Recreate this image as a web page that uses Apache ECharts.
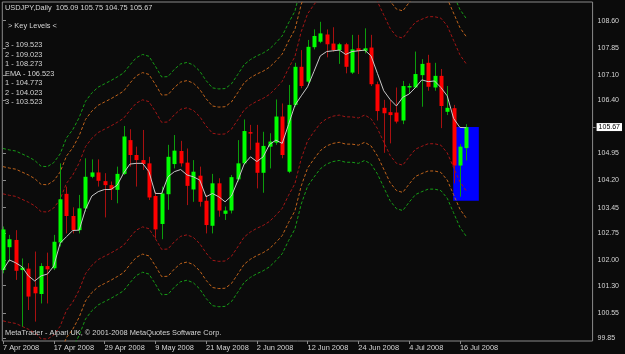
<!DOCTYPE html>
<html><head><meta charset="utf-8">
<script src="https://cdn.jsdelivr.net/npm/echarts@6/dist/echarts.min.js"></script>
<style>html,body{margin:0;padding:0;background:#0b0b0b;}#c{width:625px;height:354px;}</style>
</head><body><div id="c"></div>
<script>
const symbolName = 'USDJPY,Daily';
const tickBars = [0, 8, 16, 24, 32, 40, 48, 56, 64, 72];
const tickLabels = ['7 Apr 2008','17 Apr 2008','29 Apr 2008','9 May 2008','21 May 2008','2 Jun 2008','12 Jun 2008','24 Jun 2008','4 Jul 2008','16 Jul 2008'];
const priceTicks = [108.60,107.85,107.10,106.40,104.95,104.20,103.45,102.75,102.00,101.30,100.55,99.85];

const open = [101.73,102.36,102.56,101.73,101.77,101.27,101.07,101.84,101.78,102.49,
 103.83,103.22,102.83,103.43,104.30,104.42,104.18,104.07,103.94,104.38,
 105.31,104.90,104.76,104.67,103.77,103.00,103.82,104.65,105.01,104.69,
 103.95,104.33,103.64,102.95,104.12,103.28,103.37,104.23,104.67,105.53,
 105.24,104.41,105.13,105.24,105.96,104.44,106.28,107.33,106.92,107.87,
 108.02,108.22,107.97,107.79,107.95,107.17,107.84,107.77,107.86,106.85,
 106.20,106.08,106.07,105.85,106.76,106.76,107.10,107.44,106.76,107.08,
 106.09,106.19,104.61,105.09];
const high = [102.93,102.70,102.83,102.05,101.92,102.24,101.92,102.21,102.70,104.67,
 104.03,103.46,103.80,104.81,104.78,104.78,104.40,104.17,104.58,105.70,
 105.61,105.13,105.59,104.85,103.89,104.03,105.18,105.45,105.29,105.08,
 104.76,104.58,103.80,104.38,104.26,103.48,104.35,105.31,105.88,105.73,
 105.73,105.54,105.50,106.43,106.32,106.83,107.44,107.79,108.07,108.36,
 108.57,108.36,108.42,107.99,107.99,108.21,108.21,108.39,108.21,106.92,
 106.42,106.42,106.76,106.94,106.87,107.75,107.54,107.66,107.44,107.27,
 106.80,106.28,105.20,105.75];
const low = [101.64,101.96,101.46,100.17,100.63,100.31,100.81,100.81,101.73,102.38,
 102.74,102.74,102.74,103.34,104.26,104.03,103.18,103.66,103.57,104.35,
 104.58,104.03,104.49,103.66,102.60,102.58,103.39,104.53,104.58,103.52,
 103.61,103.48,102.74,102.74,103.20,103.11,103.29,104.17,104.63,105.04,
 103.98,103.86,104.53,105.18,104.81,104.40,106.23,106.74,106.87,107.81,
 107.98,107.59,107.75,107.41,107.15,107.13,107.13,107.70,106.80,105.85,
 104.96,105.22,105.77,105.75,106.58,106.74,106.23,106.67,106.67,105.64,
 106.00,104.12,103.75,104.75];
const close = [102.85,102.58,101.71,101.80,101.00,101.09,101.84,101.75,102.51,103.68,
 103.22,102.83,103.43,104.30,104.42,104.19,104.07,103.95,104.38,105.41,
 104.90,104.76,104.65,103.73,102.85,103.84,104.85,105.02,104.67,104.05,
 104.44,103.61,102.97,104.12,103.37,103.37,104.29,104.67,105.56,105.49,
 104.41,105.15,105.27,105.96,104.90,106.28,107.33,106.80,107.88,108.18,
 108.25,107.95,107.79,107.95,107.33,107.81,107.77,107.84,106.85,106.11,
 106.05,106.00,105.82,106.80,106.80,107.13,107.41,106.78,107.08,106.25,
 106.20,104.61,105.13,105.67];
const ema = [101.73,102.01,101.93,101.82,101.57,101.43,101.57,101.62,101.84,102.47,
 102.65,102.82,102.83,103.40,103.77,103.89,103.95,103.95,104.07,104.40,
 104.65,104.67,104.67,104.44,103.84,103.84,104.30,104.44,104.50,104.35,
 104.30,104.21,103.75,103.84,103.75,103.61,103.77,104.19,104.65,104.85,
 104.72,104.85,105.19,105.31,105.22,105.74,106.27,106.53,106.78,107.20,
 107.63,107.75,107.77,107.79,107.67,107.75,107.77,107.79,107.63,107.15,
 106.67,106.43,106.25,106.49,106.58,106.76,106.97,106.92,106.94,106.76,
 106.53,105.91,105.66,105.65];
const bandMid = [102.08,102.04,102.01,101.93,101.85,101.75,101.59,101.58,101.69,101.93,
 102.37,102.60,102.93,103.38,103.61,103.77,103.86,103.95,104.05,104.16,
 104.38,104.58,104.67,104.62,104.35,104.05,104.06,104.26,104.41,104.45,
 104.38,104.21,103.95,103.75,103.72,103.73,103.86,104.12,104.39,104.53,
 104.63,104.71,104.82,104.99,105.18,105.54,105.86,106.55,107.04,107.29,
 107.52,107.65,107.72,107.75,107.70,107.70,107.67,107.75,107.65,107.38,
 107.01,106.64,106.42,106.37,106.60,106.81,106.89,106.96,106.96,106.92,
 106.71,106.31,105.91,105.66];
const keyNames = ['3','2','1','EMA','1','2','3'];
const keyValues = [109.523,109.023,108.273,106.523,104.773,104.023,103.523];
const zoneBars = [70.95, 74.98];
const zonePrices = [103.64, 105.67];

const FONT = 'Liberation Sans';
const TXT = '#d6d6d6';
const last = open.length - 1;
const candleData = open.map((o, i) => [i, o, high[i], low[i], close[i]]);
const bandColors = ['#a31616', '#c0641c', '#179d17'];
const bandSeries = [];
for (let k = 0; k < 3; k++) {
  const up = keyValues[2 - k] - keyValues[3];
  const dn = keyValues[3] - keyValues[4 + k];
  [up, -dn].forEach(off => {
    bandSeries.push({
      type: 'line', z: 2, symbol: 'none', silent: true, animation: false,
      data: bandMid.map((m, i) => [i, +(m + off).toFixed(3)]),
      lineStyle: { color: bandColors[k], width: 1, type: [3, 2] }
    });
  });
}

const chart = echarts.init(document.getElementById('c'), null, { renderer: 'canvas' });
const keyText = keyNames.map((n, i) => n + ' - ' + keyValues[i].toFixed(3)).join('\n');
const tStyle = (extra) => Object.assign({ color: TXT, fontSize: 7.4, fontFamily: FONT, fontWeight: 'normal', lineHeight: 9.55 }, extra || {});

chart.setOption({
  backgroundColor: '#0b0b0b',
  animation: false,
  title: [
    { text: symbolName + '  ' + [open[last], high[last], low[last], close[last]].map(v => v.toFixed(2)).join(' '), left: 5, top: 3.2, padding: 0, textStyle: tStyle() },
    { text: '> Key Levels <', left: 8, top: 21.2, padding: 0, textStyle: tStyle() },
    { text: keyText, left: 5, top: 40.2, padding: 0, textStyle: tStyle() },
    { text: 'MetaTrader - Alpari UK, \u00a9 2001-2008 MetaQuotes Software Corp.', left: 5, top: 328.2, padding: 0, textStyle: tStyle() }
  ],
  grid: { left: 2, top: 2, right: 30, bottom: 13, show: true, borderColor: '#8a8a8a', borderWidth: 1, backgroundColor: 'transparent' },
  xAxis: {
    type: 'value', min: -0.11, max: 92.91,
    axisLine: { show: false },
    splitLine: { show: false },
    axisTick: { show: true, customValues: tickBars, length: 3, lineStyle: { color: '#8a8a8a' } },
    axisLabel: { customValues: tickBars, align: 'left', margin: 3, color: TXT, fontSize: 7.4, fontFamily: FONT,
      formatter: v => { const j = tickBars.indexOf(Math.round(v)); return j >= 0 ? tickLabels[j] : ''; } }
  },
  yAxis: [
    { type: 'value', position: 'right', min: 99.776, max: 109.115, scale: true,
      axisLine: { show: false }, splitLine: { show: false },
      axisTick: { show: true, customValues: priceTicks, length: 3, lineStyle: { color: '#8a8a8a' } },
      axisLabel: { customValues: priceTicks, margin: 5, color: TXT, fontSize: 7, fontFamily: FONT, formatter: v => v.toFixed(2) } },
    { type: 'value', position: 'right', min: 99.776, max: 109.115, scale: true,
      axisLine: { show: false }, splitLine: { show: false },
      axisTick: { show: true, customValues: [close[last]], length: 3, lineStyle: { color: '#8a8a8a' } },
      axisLabel: { customValues: [close[last]], margin: 4, color: '#000', backgroundColor: '#ffffff', padding: [1, 2, 0, 2], fontSize: 7, fontFamily: FONT, formatter: v => v.toFixed(2) } }
  ],
  series: [
    { type: 'line', z: 1, data: [], symbol: 'none', silent: true,
      markArea: { silent: true, itemStyle: { color: '#0000ff', opacity: 1 },
        data: [[{ coord: [zoneBars[0], zonePrices[1]] }, { coord: [zoneBars[1], zonePrices[0]] }]] } },
    ...bandSeries,
    { type: 'custom', z: 5, silent: true, data: candleData,
      encode: { x: 0, y: [1, 2, 3, 4] },
      renderItem: (params, api) => {
        const i = api.value(0), o = api.value(1), h = api.value(2), l = api.value(3), c = api.value(4);
        const pO = api.coord([i, o]), pC = api.coord([i, c]), pH = api.coord([i, h]), pL = api.coord([i, l]);
        const cx = Math.round(pO[0]);
        const up = c >= o;
        const top = Math.min(pO[1], pC[1]);
        const hgt = Math.max(1, Math.abs(pO[1] - pC[1]));
        return { type: 'group', children: [
          { type: 'line', shape: { x1: cx + 0.5, y1: pH[1], x2: cx + 0.5, y2: pL[1] }, style: { stroke: up ? '#0c9c0c' : '#a81010', lineWidth: 1 } },
          { type: 'rect', shape: { x: cx - 1.5, y: top, width: 4, height: hgt }, style: { fill: up ? '#00ff00' : '#ff0000' } }
        ] };
      } },
    { type: 'line', z: 6, symbol: 'none', silent: true, data: ema.map((v, i) => [i, v]),
      lineStyle: { color: '#c8c8c8', width: 1 } }
  ]
});
</script></body></html>
